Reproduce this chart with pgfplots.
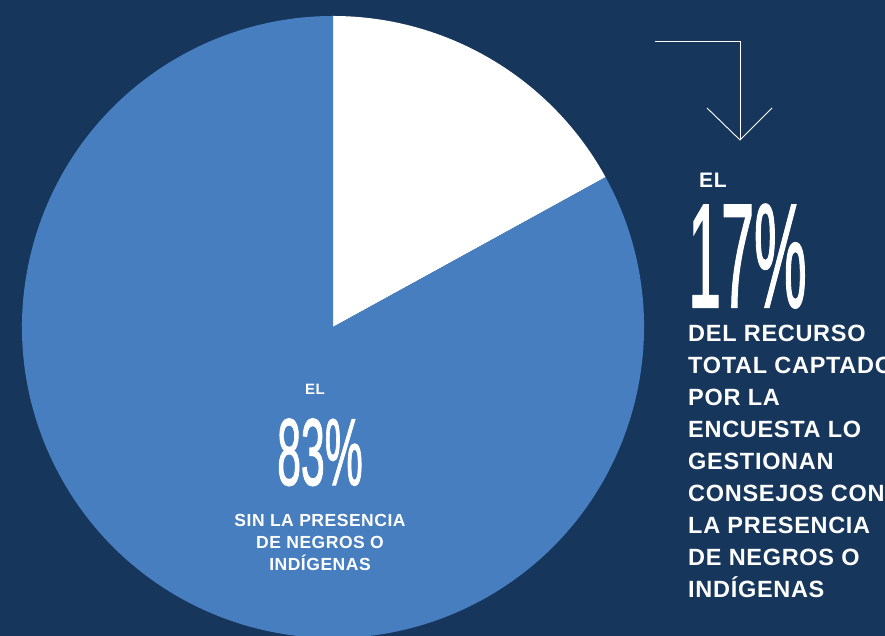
\documentclass[border=0pt]{standalone}
\usepackage{pgfplots}
\pgfplotsset{compat=1.18}
\usepackage{pgfplotstable}
\usepackage{fontspec}
\setmainfont{Liberation Sans}
\newfontfamily\bodyfont[LetterSpace=3]{Liberation Sans Bold}
\newfontfamily\bignum[FakeBold=1.5]{Liberation Sans}

\definecolor{navy}{HTML}{16365C}
\definecolor{pieblue}{HTML}{477EBF}

% share of resources (%)
\pgfplotstableread{
grupo valor
con 17
sin 83
}\pietable

\begin{document}
\begin{tikzpicture}[x=1bp,y=1bp]
\useasboundingbox (0,0) rectangle (885,636);
\clip (0,0) rectangle (885,636);
\fill[navy] (0,0) rectangle (885,636);

\pgfplotstablegetelem{0}{valor}\of\pietable \let\vcon\pgfplotsretval
\pgfplotstablegetelem{1}{valor}\of\pietable \let\vsin\pgfplotsretval
\pgfmathsetmacro{\aA}{90-3.6*\vcon}
\pgfmathsetmacro{\aB}{\aA-3.6*\vsin}

\begin{axis}[
    at={(0,0)}, anchor=south west,
    width=885bp, height=636bp, scale only axis,
    xmin=0, xmax=885, ymin=0, ymax=636,
    hide axis, clip=false,
]
    % 17% slice (white), 83% slice (blue)
    \fill[white] (axis cs:333,309) -- ++(90:311bp)
        arc[start angle=90, end angle=\aA, radius=311bp] -- cycle;
    \fill[pieblue] (axis cs:333,309) -- ++(\aA:311bp)
        arc[start angle=\aA, end angle=\aB, radius=311bp] -- cycle;
\end{axis}

% arrow
\draw[white, line width=0.9bp] (655,595) -- (740,595) -- (740,496);
\draw[white, line width=0.9bp] (707,528) -- (740,496) -- (772,528);

% right text
\node[white, anchor=base west, inner sep=0, font=\bodyfont\fontsize{21bp}{21bp}\selectfont]
    at (699,448) {EL};
\node[white, anchor=base west, inner sep=0] at (688,329)
    {\smash{\scalebox{0.40}[1]{\bignum\fontsize{148bp}{148bp}\selectfont 17\%}}};
\node[white, anchor=north west, inner sep=0, align=left,
      font=\bodyfont\fontsize{23.5bp}{32bp}\selectfont] at (688,311)
    {DEL RECURSO\\TOTAL CAPTADO\\POR LA\\ENCUESTA LO\\GESTIONAN\\CONSEJOS CON\\LA PRESENCIA\\DE NEGROS O\\INDÍGENAS};

% left text
\node[white, anchor=base, inner sep=0, font=\bodyfont\fontsize{15bp}{15bp}\selectfont]
    at (315,241) {EL};
\node[white, anchor=base, inner sep=0] at (320,151)
    {\smash{\scalebox{0.45}[1]{\bignum\fontsize{95bp}{95bp}\selectfont 83\%}}};
\node[white, anchor=north, inner sep=0, align=center,
      font=\bodyfont\fontsize{17.5bp}{22bp}\selectfont] at (320,122)
    {SIN LA PRESENCIA\\DE NEGROS O\\INDÍGENAS};
\end{tikzpicture}
\end{document}
